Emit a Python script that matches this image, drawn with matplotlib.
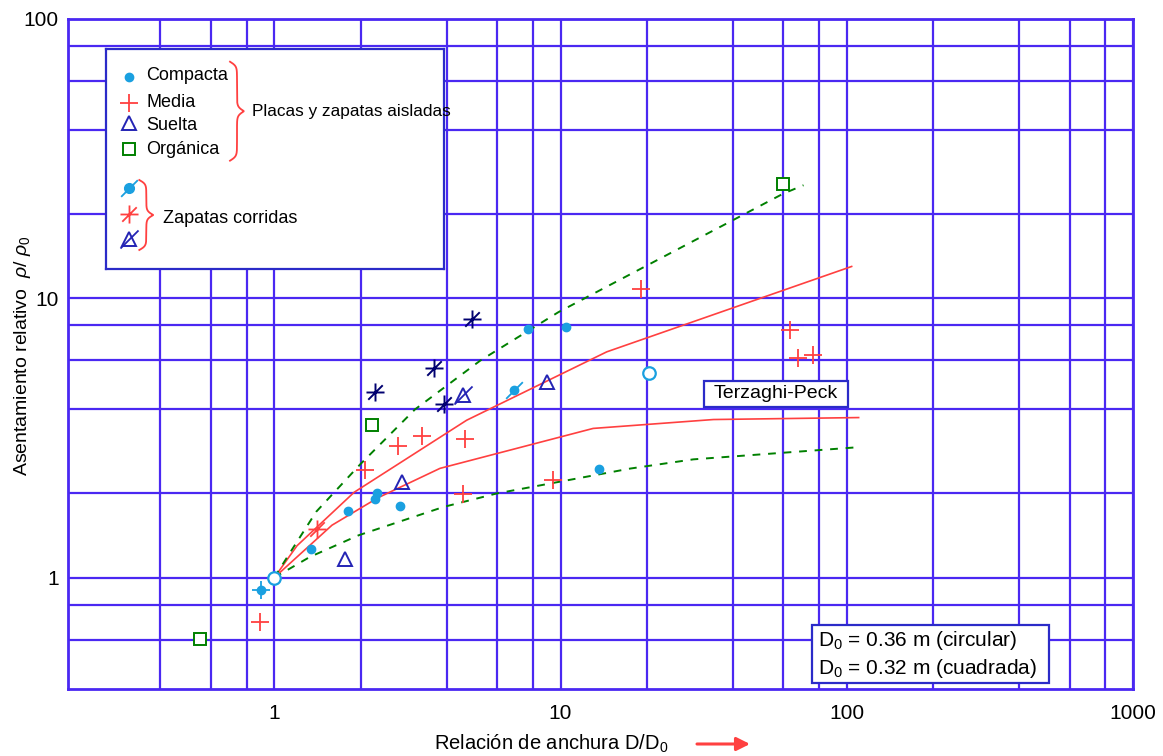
import numpy as np
import matplotlib
matplotlib.use('Agg')
import matplotlib.pyplot as plt
from matplotlib.path import Path
from matplotlib.patches import Rectangle
from matplotlib.ticker import NullFormatter
from matplotlib import font_manager

# ---------------- data ----------------
x_major = [1, 10, 100, 1000]
x_major_labels = ['1', '10', '100', '1000']
x_minor = [0.4, 0.6, 0.8, 2, 4, 6, 8, 20, 40, 60, 80, 200, 400, 600, 800]
y_major = [1, 10, 100]
y_major_labels = ['1', '10', '100']
y_minor = [0.6, 0.8, 2, 4, 6, 8, 20, 40, 60, 80]

# Terzaghi-Peck curves (solid red)
tp_upper_x = [1, 1.2, 1.9, 4.7, 14.5, 104]
tp_upper_y = [1, 1.3, 2.02, 3.66, 6.43, 13.0]
tp_lower_x = [1, 1.59, 2.3, 3.79, 13.0, 34.2, 110]
tp_lower_y = [1, 1.54, 1.93, 2.46, 3.42, 3.68, 3.74]

# envelope curves (dashed green)
env_upper_x = [1, 1.13, 1.4, 2.0, 3.1, 5.25, 9.83, 60, 70.6]
env_upper_y = [1, 1.22, 1.72, 2.55, 4.0, 5.99, 8.92, 23.7, 25.4]
env_lower_x = [1, 1.33, 1.97, 3.9, 5.98, 17.5, 29.1, 110]
env_lower_y = [1, 1.185, 1.417, 1.79, 2.0, 2.456, 2.65, 2.93]

# Placas y zapatas aisladas
compacta_x = [1.34, 1.81, 2.24, 2.29, 2.74, 7.72, 10.45, 13.6]
compacta_y = [1.27, 1.73, 1.91, 2.01, 1.80, 7.77, 7.92, 2.44]
media_x = [0.892, 2.08, 2.70, 3.28, 4.62, 4.58, 9.38, 19.1, 63.1, 67.6, 76.5]
media_y = [0.695, 2.42, 2.96, 3.21, 3.13, 1.99, 2.24, 10.8, 7.69, 6.09, 6.25]
suelta_x = [1.77, 2.80, 9.0]
suelta_y = [1.167, 2.20, 5.02]
organica_x = [0.552, 2.19, 60.0]
organica_y = [0.605, 3.51, 25.6]

# Zapatas corridas
corr_compacta_x = [6.89]
corr_compacta_y = [4.68]
corr_compacta_plus_x = [0.897]
corr_compacta_plus_y = [0.903]
corr_media_x = [1.405]
corr_media_y = [1.496]
corr_suelta_x = [4.58]
corr_suelta_y = [4.49]
corr_navy_x = [2.25, 3.61, 3.90, 4.89]
corr_navy_y = [4.60, 5.65, 4.17, 8.45]

# reference points (open circles)
ref_x = [1.0, 20.3]
ref_y = [1.0, 5.40]

# ---------------- style ----------------
avail = {f.name for f in font_manager.fontManager.ttflist}
FONT = 'Liberation Sans' if 'Liberation Sans' in avail else 'DejaVu Sans'
plt.rcParams['font.family'] = [FONT, 'DejaVu Sans']
plt.rcParams['mathtext.fontset'] = 'custom'
plt.rcParams['mathtext.rm'] = FONT
plt.rcParams['mathtext.it'] = FONT + ':italic'

GRID = '#4a28f2'
BOX = '#2b2bc8'
RED = '#ff4040'
GREEN = '#008000'
CYAN = '#1aa0e0'
TRI = '#2424b4'
NAVY = '#000070'

M, L = Path.MOVETO, Path.LINETO
plus_slash = Path([(-1, 0), (1, 0), (0, -1), (0, 1), (-0.8, -0.8), (0.8, 0.8)],
                  [M, L, M, L, M, L])
slash = Path([(-1, -1), (1, 1)], [M, L])

W, H = 1163, 756
fig = plt.figure(figsize=(W / 100, H / 100), dpi=100)


def fx(px):
    return px / W


def fy(py):
    return 1 - py / H


ax = fig.add_axes([fx(68.3), fy(688.7), fx(1133) - fx(68.3), fy(19) - fy(688.7)])
ax.set_xscale('log')
ax.set_yscale('log')
ax.set_xlim(0.1906, 1000)
ax.set_ylim(0.4, 100)
ax.set_xticks(x_major)
ax.set_xticklabels(x_major_labels)
ax.set_xticks(x_minor, minor=True)
ax.xaxis.set_minor_formatter(NullFormatter())
ax.set_yticks(y_major)
ax.set_yticklabels(y_major_labels)
ax.set_yticks(y_minor, minor=True)
ax.yaxis.set_minor_formatter(NullFormatter())
ax.set_axisbelow(True)
ax.grid(True, which='both', color=GRID, lw=1.6)
ax.tick_params(which='both', length=0)
ax.tick_params(axis='x', pad=11, labelsize=15)
ax.tick_params(axis='y', pad=7, labelsize=15)
for sp in ax.spines.values():
    sp.set_color(GRID)
    sp.set_linewidth(2)

# curves
ax.plot(tp_upper_x, tp_upper_y, color=RED, lw=1.2, zorder=3)
ax.plot(tp_lower_x, tp_lower_y, color=RED, lw=1.2, zorder=3)
ax.plot(env_upper_x, env_upper_y, color=GREEN, lw=1.4, ls=(0, (4, 4)), zorder=3)
ax.plot(env_lower_x, env_lower_y, color=GREEN, lw=1.4, ls=(0, (4, 4)), zorder=3)

# markers
ax.plot(compacta_x, compacta_y, ls='none', marker='o', ms=6, mfc=CYAN, mec=CYAN, zorder=4)
ax.plot(media_x, media_y, ls='none', marker='+', ms=13, mew=1.3, color=RED, zorder=4)
ax.plot(suelta_x, suelta_y, ls='none', marker='^', ms=10, mfc='none', mec=TRI, mew=1.4, zorder=4)
ax.plot(organica_x, organica_y, ls='none', marker='s', ms=9, mfc='white', mec=GREEN, mew=1.4, zorder=4)

ax.plot(corr_compacta_x, corr_compacta_y, ls='none', marker='o', ms=6, mfc=CYAN, mec=CYAN, zorder=4)
ax.plot(corr_compacta_x, corr_compacta_y, ls='none', marker=slash, ms=12, mec=CYAN, mew=1.3, zorder=4)
ax.plot(corr_compacta_plus_x, corr_compacta_plus_y, ls='none', marker='o', ms=6, mfc=CYAN, mec=CYAN, zorder=4)
ax.plot(corr_compacta_plus_x, corr_compacta_plus_y, ls='none', marker='+', ms=13, mew=1.3, color=CYAN, zorder=4)
ax.plot(corr_media_x, corr_media_y, ls='none', marker=plus_slash, ms=13, mew=1.3, mec=RED, zorder=4)
ax.plot(corr_suelta_x, corr_suelta_y, ls='none', marker='^', ms=10, mfc='none', mec=TRI, mew=1.4, zorder=4)
ax.plot(corr_suelta_x, corr_suelta_y, ls='none', marker=slash, ms=13, mec=TRI, mew=1.3, zorder=4)
ax.plot(corr_navy_x, corr_navy_y, ls='none', marker=plus_slash, ms=13, mew=1.4, mec=NAVY, zorder=4)

ax.plot(ref_x, ref_y, ls='none', marker='o', ms=9, mfc='white', mec=CYAN, mew=1.6, zorder=5)

# ---------------- legend box ----------------
lw_, lh_ = 444.3 - 106, 269.3 - 49.3
lg = fig.add_axes([fx(106), fy(269.3), fx(444.3) - fx(106), fy(49.3) - fy(269.3)])
lg.set_zorder(6)
lg.set_xlim(0, lw_)
lg.set_ylim(lh_, 0)
lg.set_xticks([])
lg.set_yticks([])
lg.set_facecolor('white')
for sp in lg.spines.values():
    sp.set_color(BOX)
    sp.set_linewidth(1.6)

mx = 23.3
lg.plot([mx], [27.4], ls='none', marker='o', ms=6, mfc=CYAN, mec=CYAN)
lg.plot([mx], [53.4], ls='none', marker='+', ms=13, mew=1.3, color=RED)
lg.plot([mx], [74.0], ls='none', marker='^', ms=10, mfc='none', mec=TRI, mew=1.4)
lg.plot([mx], [100.0], ls='none', marker='s', ms=9, mfc='white', mec=GREEN, mew=1.4)
lg.plot([mx], [139.0], ls='none', marker='o', ms=7, mfc=CYAN, mec=CYAN)
lg.plot([mx], [139.0], ls='none', marker=slash, ms=12, mec=CYAN, mew=1.3)
lg.plot([mx], [165.0], ls='none', marker=plus_slash, ms=13, mew=1.3, mec=RED)
lg.plot([mx], [189.7], ls='none', marker='^', ms=10, mfc='none', mec=TRI, mew=1.4)
lg.plot([mx], [189.7], ls='none', marker=slash, ms=13, mec=TRI, mew=1.3)

tfs = 13
lg.text(40, 26.7, 'Compacta', fontsize=tfs, va='center', ha='left')
lg.text(40, 53.4, 'Media', fontsize=tfs, va='center', ha='left')
lg.text(40, 75.7, 'Suelta', fontsize=tfs, va='center', ha='left')
lg.text(40, 100.0, 'Orgánica', fontsize=tfs, va='center', ha='left')
lg.text(145.7, 62.4, 'Placas y zapatas aisladas', fontsize=12.4, va='center', ha='left')
lg.text(57.3, 169.0, 'Zapatas corridas', fontsize=tfs, va='center', ha='left')


def brace(axl, x_end, y0, y1, w, color, beta=45):
    s = np.linspace(0, 1, 300)
    u = np.where(s <= 0.5, s, 1 - s)
    v = 1 / (1 + np.exp(-beta * u)) + 1 / (1 + np.exp(-beta * (u - 0.5))) - 0.5
    axl.plot(x_end + w * v, y0 + s * (y1 - y0), color=color, lw=1.3)


brace(lg, 124, 12.4, 111.4, 14, RED)
brace(lg, 33.3, 130.7, 200.7, 14, RED, beta=35)

# ---------------- annotation boxes ----------------
fig.add_artist(Rectangle((fx(704.3), fy(406.7)), fx(848.3) - fx(704.3), (406.7 - 380.7) / H,
                         transform=fig.transFigure, facecolor='white', edgecolor=BOX,
                         lw=1.6, zorder=10))
fig.text(fx(776), fy(394), 'Terzaghi-Peck', fontsize=14, ha='center', va='center', zorder=11)

fig.add_artist(Rectangle((fx(812), fy(683)), fx(1049) - fx(812), (683 - 625) / H,
                         transform=fig.transFigure, facecolor='white', edgecolor=BOX,
                         lw=1.6, zorder=10))
fig.text(fx(818), fy(640), 'D$_0$ = 0.36 m (circular)', fontsize=15, ha='left', va='center', zorder=11)
fig.text(fx(818), fy(668), 'D$_0$ = 0.32 m (cuadrada)', fontsize=15, ha='left', va='center', zorder=11)

# ---------------- axis labels ----------------
fig.text(fx(434), fy(744), 'Relación de anchura D/D$_0$', fontsize=14.5, ha='left', va='center')
ax.annotate('', xy=(750, H - 744), xytext=(697, H - 744), xycoords='figure pixels',
            textcoords='figure pixels',
            arrowprops=dict(arrowstyle='-|>', color=RED, lw=2.2, mutation_scale=20,
                            shrinkA=0, shrinkB=0))
fig.text(fx(23), fy(356), 'Asentamiento relativo  $\\rho$/ $\\rho_0$', fontsize=14,
         rotation=90, ha='center', va='center')

fig.savefig('out.png', dpi=100)
